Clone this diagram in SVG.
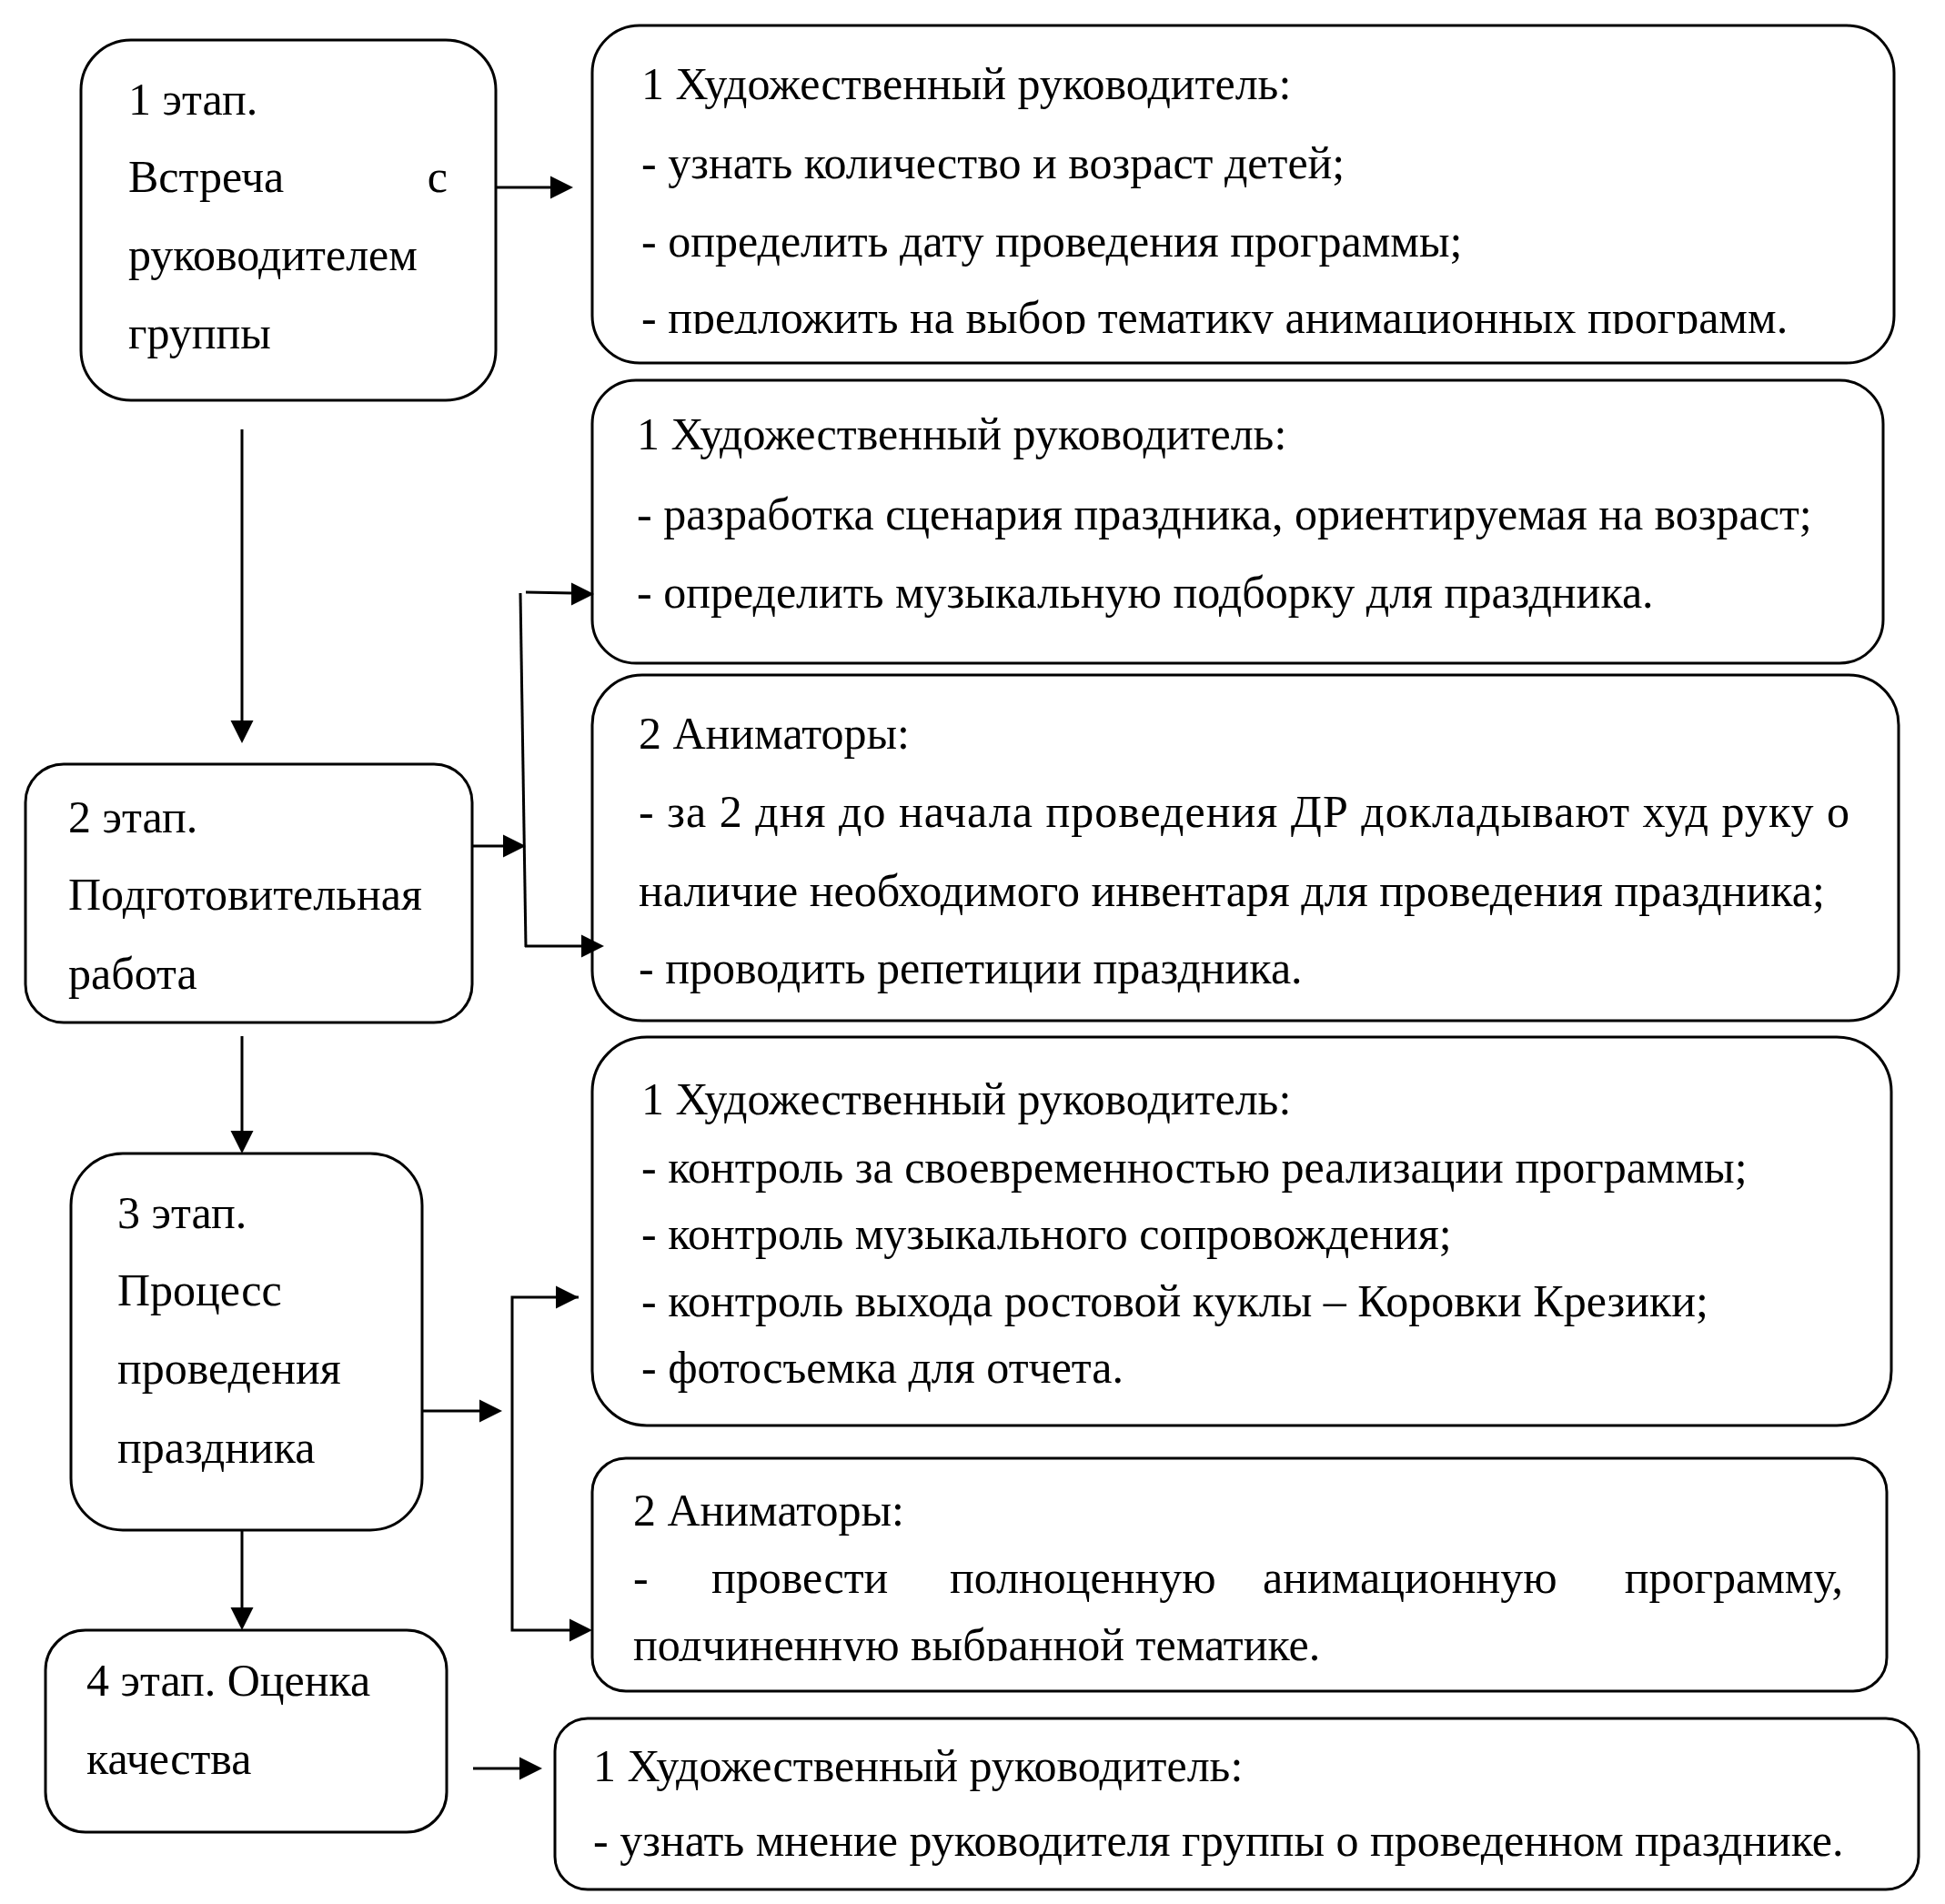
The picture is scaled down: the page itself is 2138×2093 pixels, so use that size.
<svg xmlns="http://www.w3.org/2000/svg" width="2138" height="2093" viewBox="0 0 2138 2093">
<style>
.box{fill:#fff;stroke:#000;stroke-width:3}
.t{font-family:"Liberation Serif","Times New Roman",serif;font-size:50px;fill:#000}
.ln{stroke:#000;stroke-width:3;fill:none}
.ah{fill:#000;stroke:none}
</style>
<defs>
<clipPath id="clip1"><rect x="600" y="0" width="1538" height="367"/></clipPath>
<clipPath id="clip5"><rect x="600" y="1600" width="1538" height="226"/></clipPath>
</defs>
<rect width="2138" height="2093" fill="#fff"/>

<g id="stage1">
<rect class="box" x="89" y="44" width="456" height="396" rx="55" ry="55"/>
<text class="t" x="141" y="126">1 этап.</text>
<text class="t" x="141" y="211">Встреча</text>
<text class="t" x="492" y="211" text-anchor="end">с</text>
<text class="t" x="141" y="297">руководителем</text>
<text class="t" x="141" y="383">группы</text>
</g>

<g id="stage1-director">
<rect class="box" x="651" y="28" width="1431" height="371" rx="52" ry="52"/>
<text class="t" x="705" y="109">1 Художественный руководитель:</text>
<text class="t" x="705" y="196">- узнать количество и возраст детей;</text>
<text class="t" x="705" y="282">- определить дату проведения программы;</text>
<text class="t" x="705" y="366" clip-path="url(#clip1)">- предложить на выбор тематику анимационных программ.</text>
</g>

<g id="stage2">
<rect class="box" x="28" y="840" width="491" height="284" rx="42" ry="42"/>
<text class="t" x="75" y="915">2 этап.</text>
<text class="t" x="75" y="1000">Подготовительная</text>
<text class="t" x="75" y="1087">работа</text>
</g>

<g id="stage2-director">
<rect class="box" x="651" y="418" width="1419" height="311" rx="48" ry="48"/>
<text class="t" x="700" y="494">1 Художественный руководитель:</text>
<text class="t" x="700" y="582">- разработка сценария праздника, ориентируемая на возраст;</text>
<text class="t" x="700" y="668">- определить музыкальную подборку для праздника.</text>
</g>

<g id="stage2-animators">
<rect class="box" x="651" y="742" width="1436" height="380" rx="55" ry="55"/>
<text class="t" x="702" y="823">2 Аниматоры:</text>
<text class="t" x="702" y="909" textLength="1331" lengthAdjust="spacing">- за 2 дня до начала проведения ДР докладывают худ руку о</text>
<text class="t" x="702" y="996">наличие необходимого инвентаря для проведения праздника;</text>
<text class="t" x="702" y="1081">- проводить репетиции праздника.</text>
</g>

<g id="stage3">
<rect class="box" x="78" y="1268" width="386" height="414" rx="57" ry="57"/>
<text class="t" x="129" y="1350">3 этап.</text>
<text class="t" x="129" y="1435">Процесс</text>
<text class="t" x="129" y="1521">проведения</text>
<text class="t" x="129" y="1608">праздника</text>
</g>

<g id="stage3-director">
<rect class="box" x="651" y="1140" width="1428" height="427" rx="60" ry="60"/>
<text class="t" x="705" y="1225">1 Художественный руководитель:</text>
<text class="t" x="705" y="1300">- контроль за своевременностью реализации программы;</text>
<text class="t" x="705" y="1373">- контроль музыкального сопровождения;</text>
<text class="t" x="705" y="1447">- контроль выхода ростовой куклы – Коровки Крезики;</text>
<text class="t" x="705" y="1520">- фотосъемка для отчета.</text>
</g>

<g id="stage3-animators">
<rect class="box" x="651" y="1603" width="1423" height="256" rx="37" ry="37"/>
<text class="t" x="696" y="1677">2 Аниматоры:</text>
<text class="t" y="1751"><tspan x="696">-</tspan><tspan x="782">провести</tspan><tspan x="1044">полноценную</tspan><tspan x="1388">анимационную</tspan></text>
<text class="t" x="2026" y="1751" text-anchor="end">программу,</text>
<text class="t" x="696" y="1825" clip-path="url(#clip5)">подчиненную выбранной тематике.</text>
</g>

<g id="stage4">
<rect class="box" x="50" y="1792" width="441" height="222" rx="44" ry="44"/>
<text class="t" x="95" y="1864">4 этап. Оценка</text>
<text class="t" x="95" y="1950">качества</text>
</g>

<g id="stage4-director">
<rect class="box" x="610" y="1889" width="1499" height="188" rx="36" ry="36"/>
<text class="t" x="652" y="1958">1 Художественный руководитель:</text>
<text class="t" x="652" y="2040">- узнать мнение руководителя группы о проведенном празднике.</text>
</g>

<g id="connectors">
<line class="ln" x1="545" y1="206" x2="606" y2="206"/>
<polygon class="ah" points="630,206 605,193.5 605,218.5"/>

<line class="ln" x1="266" y1="472" x2="266" y2="794"/>
<polygon class="ah" points="266,817 253.5,792 278.5,792"/>

<line class="ln" x1="519" y1="930" x2="555" y2="930"/>
<polygon class="ah" points="578,930 553,917.5 553,942.5"/>
<line class="ln" x1="572" y1="652" x2="578" y2="1041"/>
<line class="ln" x1="578" y1="651" x2="630" y2="652"/>
<polygon class="ah" points="653,653 628,640.5 628,665.5"/>
<line class="ln" x1="577" y1="1040" x2="641" y2="1040"/>
<polygon class="ah" points="664,1040 639,1027.5 639,1052.5"/>

<line class="ln" x1="266" y1="1139" x2="266" y2="1245"/>
<polygon class="ah" points="266,1268 253.5,1243 278.5,1243"/>

<line class="ln" x1="464" y1="1551" x2="529" y2="1551"/>
<polygon class="ah" points="552,1551 527,1538.5 527,1563.5"/>
<polyline class="ln" points="636,1426 563,1426 563,1792 630,1792"/>
<polygon class="ah" points="636,1426 611,1413.5 611,1438.5"/>
<polygon class="ah" points="651,1792 626,1779.5 626,1804.5"/>

<line class="ln" x1="266" y1="1682" x2="266" y2="1769"/>
<polygon class="ah" points="266,1792 253.5,1767 278.5,1767"/>

<line class="ln" x1="520" y1="1944" x2="573" y2="1944"/>
<polygon class="ah" points="596,1944 571,1931.5 571,1956.5"/>
</g>
</svg>
